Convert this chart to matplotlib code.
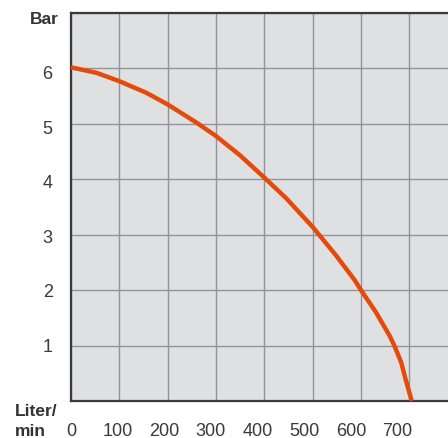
import matplotlib
matplotlib.use("Agg")
import matplotlib.pyplot as plt

plt.rcParams["font.family"] = ["Liberation Sans", "DejaVu Sans"]

# pump curve
flow = [0, 53, 100, 156, 200, 260, 300, 350, 400, 445, 500, 548, 587, 600, 631, 659, 669, 683, 692, 705]  # Liter/min
pressure = [6.02, 5.92, 5.77, 5.56, 5.35, 5.02, 4.78, 4.43, 4.03, 3.66, 3.14, 2.63, 2.18, 2.0, 1.6, 1.18, 1.0, 0.7, 0.4, 0.0]  # Bar

x_ticks = [0, 100, 200, 300, 400, 500, 600, 700]
y_ticks = [1, 2, 3, 4, 5, 6]
x_labels = ["0", "100", "200", "300", "400", "500", "600", "700"]
y_labels = ["1", "2", "3", "4", "5", "6"]

W, H = 448, 439
fig = plt.figure(figsize=(W / 100, H / 100), dpi=100)
ax = fig.add_axes([71 / W, 1 - 402 / H, 1 - 71 / W, 388 / H])

ax.set_facecolor("#dfe0e2")
ax.set_xlim(0, 780)
ax.set_ylim(0, 7)

# grid on the real hundreds / whole bars
ax.set_xticks(range(0, 800, 100))
ax.set_yticks(range(0, 8))
ax.set_xticklabels([])
ax.set_yticklabels([])
ax.grid(True, color="#8e949b", linewidth=1.0)
ax.set_axisbelow(True)
ax.tick_params(length=0)

ax.plot(flow, pressure, color="#e64a0a", linewidth=3.2, solid_capstyle="butt",
        solid_joinstyle="round", zorder=3)

for side in ["left", "bottom", "top"]:
    ax.spines[side].set_color("#3a3a3c")
    ax.spines[side].set_linewidth(1.6)
ax.spines["right"].set_visible(False)

# labels sit a bit off the grid in the original, so place them in pixels
fig.canvas.draw()
to_px = ax.transData
for i, (t, lab) in enumerate(zip(x_ticks, x_labels)):
    px, _ = to_px.transform((t - 3.5 * i, 0))
    fig.text(px / W, 1 - 431.7 / H, lab, ha="center", va="center",
             fontsize=13, color="#3a3a3a")
for t, lab in zip(y_ticks, y_labels):
    _, py = to_px.transform((0, t * 0.985))
    fig.text(52.7 / W, py / H, lab, ha="right", va="center",
             fontsize=13, color="#3a3a3a")

fig.text(44.5 / W, 1 - 20 / H, "Bar", ha="center", va="center", fontsize=12.5,
         fontweight="bold", color="#333333")
fig.text(15 / W, 1 - 412 / H, "Liter/", ha="left", va="center", fontsize=12.5,
         fontweight="bold", color="#333333")
fig.text(15 / W, 1 - 432 / H, "min", ha="left", va="center", fontsize=12.5,
         fontweight="bold", color="#333333")

fig.savefig("out.png", dpi=100)
